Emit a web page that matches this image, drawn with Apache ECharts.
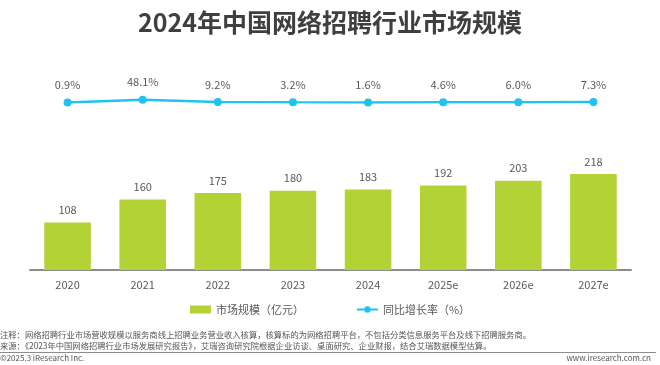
<!DOCTYPE html>
<html><head><meta charset="utf-8">
<script src="https://cdn.jsdelivr.net/npm/echarts@6/dist/echarts.min.js"></script>
<style>html,body{margin:0;padding:0;background:#fff}#c{width:660px;height:365px}</style>
</head><body><div id="c"></div>
<script>
const categories = ['2020','2021','2022','2023','2024','2025e','2026e','2027e'];
const marketSize = [108,160,175,180,183,192,203,218];
const growthRate = [0.9,48.1,9.2,3.2,1.6,4.6,6.0,7.3];
const growthLabels = ['0.9%','48.1%','9.2%','3.2%','1.6%','4.6%','6.0%','7.3%'];

const FONT = '"Noto Sans CJK SC","Noto Sans",sans-serif';
const chart = echarts.init(document.getElementById('c'), null, {renderer:'canvas'});
chart.setOption({
  animation:false,
  backgroundColor:'#fff',
  title:{text:'2024年中国网络招聘行业市场规模',left:'center',top:5,
    textStyle:{fontFamily:FONT,fontSize:25,fontWeight:'bold',color:'#3f3f3f'}},
  legend:{bottom:45,left:'center',itemWidth:21,itemHeight:8,itemGap:52,
    textStyle:{fontFamily:FONT,fontSize:11,color:'#595959'},
    data:[{name:'市场规模（亿元）',icon:'rect'},{name:'同比增长率（%）'}]},
  grid:[
    {left:30,right:29,top:72,bottom:95},
    {left:30,right:29,top:70,bottom:262.5}
  ],
  xAxis:[
    {type:'category',gridIndex:0,data:categories,
      axisLine:{lineStyle:{color:'#8c8c8c',width:2}},axisTick:{show:false},
      axisLabel:{fontFamily:FONT,fontSize:11,color:'#595959',margin:9}},
    {type:'category',gridIndex:1,data:categories,show:false}
  ],
  yAxis:[
    {type:'value',gridIndex:0,min:0,max:450,show:false,splitLine:{show:false}},
    {type:'value',gridIndex:1,min:0,max:570,show:false,splitLine:{show:false}}
  ],
  series:[
    {name:'市场规模（亿元）',type:'bar',xAxisIndex:0,yAxisIndex:0,data:marketSize,
      barWidth:'62%',itemStyle:{color:'#b3d235'},
      label:{show:true,position:'top',distance:7,fontFamily:FONT,fontSize:11,color:'#595959'}},
    {name:'同比增长率（%）',type:'line',xAxisIndex:1,yAxisIndex:1,data:growthRate,
      symbol:'circle',symbolSize:8,lineStyle:{color:'#20c3ef',width:2.5},
      itemStyle:{color:'#20c3ef'},
      label:{show:true,position:'top',distance:8,fontFamily:FONT,fontSize:11,color:'#595959',
        formatter:p=>growthLabels[p.dataIndex]}}
  ],
  graphic:[
    {type:'text',left:0,top:331,style:{text:'注释：网络招聘行业市场营收规模以服务商线上招聘业务营业收入核算，核算标的为网络招聘平台，不包括分类信息服务平台及线下招聘服务商。',
      font:'8.3px '+FONT,fill:'#555'}},
    {type:'text',left:0,top:342,style:{text:'来源：《2023年中国网络招聘行业市场发展研究报告》，艾瑞咨询研究院根据企业访谈、桌面研究、企业财报，结合艾瑞数据模型估算。',
      font:'8.3px '+FONT,fill:'#555'}},
    {type:'line',shape:{x1:0,y1:352.5,x2:656,y2:352.5},style:{stroke:'#8c8c8c',lineWidth:1}},
    {type:'text',left:0,top:354,style:{text:'©2025.3 iResearch Inc.',font:'8px '+FONT,fill:'#555'}},
    {type:'text',right:9,top:354,style:{text:'www.iresearch.com.cn',font:'8px '+FONT,fill:'#555'}}
  ]
});
</script></body></html>
